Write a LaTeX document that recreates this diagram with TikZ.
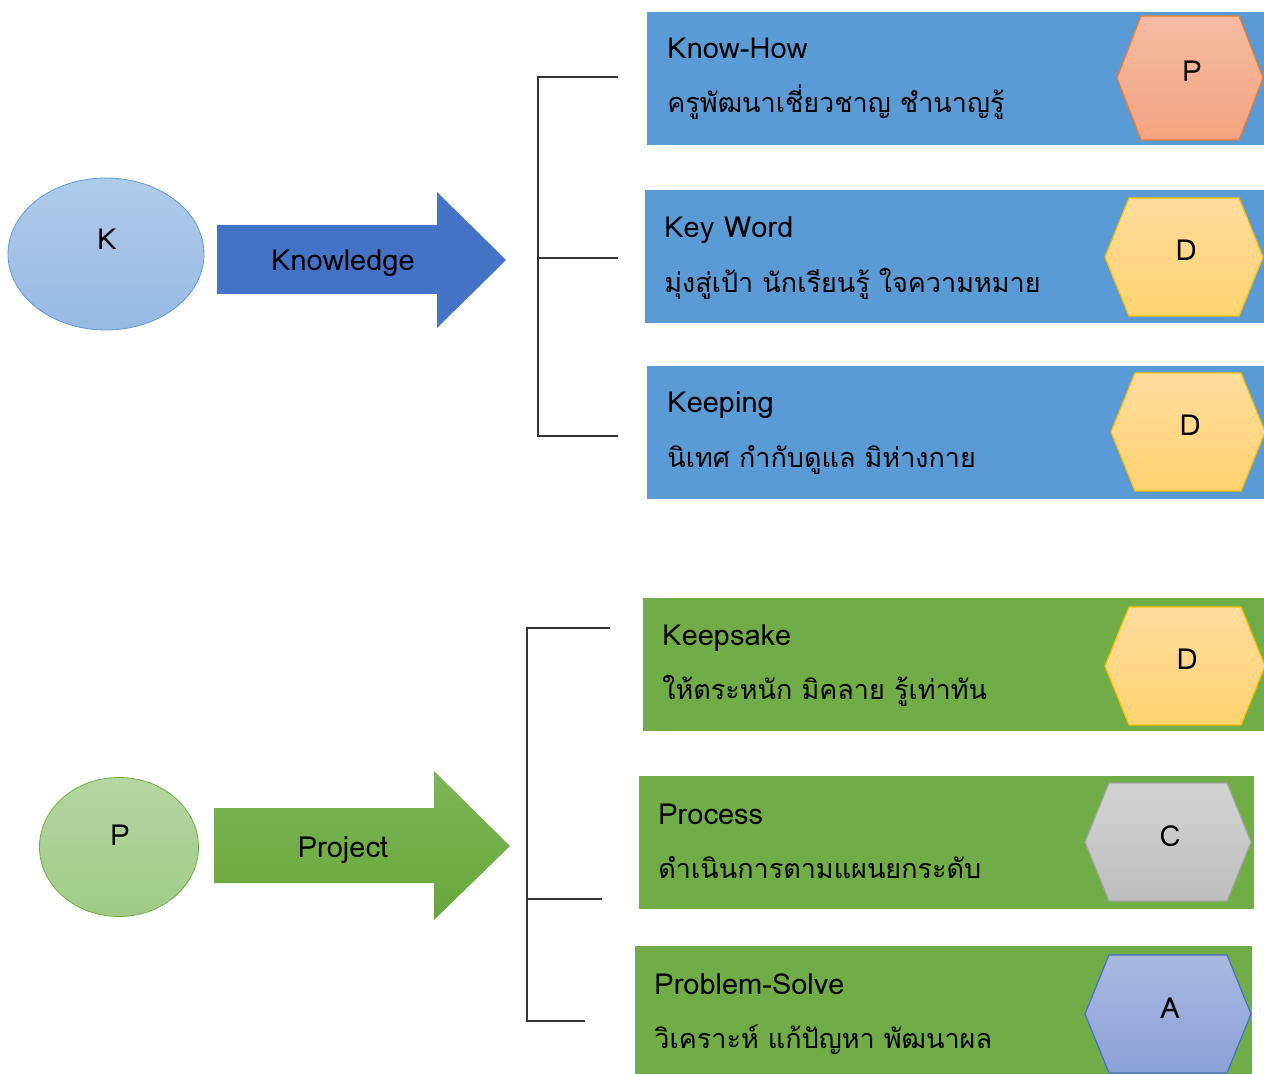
\documentclass[tikz,border=0pt]{standalone}
\usepackage{fontspec}
\setmainfont[Script=Thai]{Loma}
\usepackage{tikz}
\usetikzlibrary{shapes.geometric}
\definecolor{boxblue}{HTML}{5B9BD5}
\definecolor{boxgreen}{HTML}{70AD47}
\definecolor{arrowblue}{HTML}{4472C4}
\definecolor{kTop}{HTML}{AFCBEA}
\definecolor{kBot}{HTML}{97B9E2}
\definecolor{pTop}{HTML}{B5D6A3}
\definecolor{pBot}{HTML}{9FCB86}
\definecolor{projTop}{HTML}{7DB756}
\definecolor{projBot}{HTML}{68A63A}
\definecolor{salmTop}{HTML}{F5BCA3}
\definecolor{salmBot}{HTML}{F4A37F}
\definecolor{salmLine}{HTML}{ED7D31}
\definecolor{goldTop}{HTML}{FFDC9E}
\definecolor{goldBot}{HTML}{FFD371}
\definecolor{goldLine}{HTML}{FFC000}
\definecolor{grayTop}{HTML}{D2D2D2}
\definecolor{grayBot}{HTML}{BEBEBE}
\definecolor{grayLine}{HTML}{A5A5A5}
\definecolor{violTop}{HTML}{AAB8E0}
\definecolor{violBot}{HTML}{8BA2D8}
\definecolor{violLine}{HTML}{4472C4}

\begin{document}
\begin{tikzpicture}[x=0.5pt,y=-0.5pt,every node/.style={font=\fontsize{13.5}{16}\selectfont,text=black},
  bluebox/.style={fill=boxblue,anchor=north west,minimum height=66.5pt,inner sep=0pt},
  greenbox/.style={fill=boxgreen,anchor=north west,minimum height=66.5pt,inner sep=0pt},
  boxtext/.style={anchor=base west,inner sep=0pt},
  latin/.style={font=\fontsize{14.5}{17}\selectfont},
  midtext/.style={anchor=base,inner sep=0pt,latin},
  bracket/.style={draw=black!80,line width=0.6pt}]

\useasboundingbox (0,0) rectangle (1264,1074);

% K side
\node[ellipse,draw=boxblue,top color=kTop,bottom color=kBot,minimum width=98pt,minimum height=76pt,inner sep=0pt] (kell) at (106,254) {};
\node[midtext] (kletter) at (107,250) {K};
\fill[arrowblue] (217,225) -- (437,225) -- (437,192) -- (506,260) -- (437,328) -- (437,294) -- (217,294) -- cycle;
\node[midtext] (klabel) at (343,271) {Knowledge};

% P side
\node[ellipse,draw=boxgreen,top color=pTop,bottom color=pBot,minimum width=79.5pt,minimum height=69.5pt,inner sep=0pt] (pell) at (119,847) {};
\node[midtext] (pletter) at (120,845) {P};
\shade[top color=projTop,bottom color=projBot] (214,808) -- (434,808) -- (434,771) -- (510,846) -- (434,920) -- (434,883) -- (214,883) -- cycle;
\node[midtext] (plabel) at (343,857) {Project};

% brackets
\coordinate (ka) at (618,77);
\coordinate (kb) at (538,77);
\coordinate (kc) at (538,436);
\coordinate (kd) at (618,436);
\coordinate (km) at (538,258);
\coordinate (kn) at (618,258);
\draw[bracket] (ka) -- (kb) -- (kc) -- (kd);
\draw[bracket] (km) -- (kn);
\coordinate (pa) at (610,628);
\coordinate (pb) at (527,628);
\coordinate (pc) at (527,1021);
\coordinate (pd) at (585,1021);
\coordinate (pm) at (527,899);
\coordinate (pn) at (602,899);
\draw[bracket] (pa) -- (pb) -- (pc) -- (pd);
\draw[bracket] (pm) -- (pn);

% boxes
\node[bluebox,minimum width=308.5pt] (knowhowbox) at (647,12) {};
\node[bluebox,minimum width=309.5pt] (keywordbox) at (645,190) {};
\node[bluebox,minimum width=308.5pt] (keepingbox) at (647,366) {};
\node[greenbox,minimum width=310.5pt] (keepsakebox) at (643,598) {};
\node[greenbox,minimum width=307.5pt] (processbox) at (639,776) {};
\node[greenbox,minimum width=308.5pt,minimum height=64pt] (problembox) at (635,946) {};

% hexagons
\foreach \cx/\cy/\w/\h/\ct/\cb/\cl/\t [count=\i] in {1190/78/73/62/salmTop/salmBot/salmLine/P,
    1184/257/79/59/goldTop/goldBot/goldLine/D, 1188/432/77/59/goldTop/goldBot/goldLine/D,
    1185/666/80/59/goldTop/goldBot/goldLine/D, 1168/842/83/59/grayTop/grayBot/grayLine/C,
    1168/1014/83/59/violTop/violBot/violLine/A}
{
  \draw[draw=\cl,top color=\ct,bottom color=\cb,line width=0.6pt] (\cx-\w,\cy) -- (\cx-\w+24,\cy-\h) -- (\cx+\w-24,\cy-\h)
    -- (\cx+\w,\cy) -- (\cx+\w-24,\cy+\h) -- (\cx-\w+24,\cy+\h) -- cycle;
  \node[midtext] (hex\i) at (\cx+2,\cy+4) {\t};
}

% texts
\node[boxtext,latin] (knowhow) at (667,59) {Know-How};
\node[boxtext] (knowhowth) at (667,113) {ครูพัฒนาเชี่ยวชาญ ชำนาญรู้};
\node[boxtext,latin] (keyword) at (664,238) {Key Word};
\node[boxtext] (keywordth) at (664,293) {มุ่งสู่เป้า นักเรียนรู้ ใจความหมาย};
\node[boxtext,latin] (keeping) at (667,413) {Keeping};
\node[boxtext] (keepingth) at (667,468) {นิเทศ กำกับดูแล มิห่างกาย};
\node[boxtext,latin] (keepsake) at (662,646) {Keepsake};
\node[boxtext] (keepsaketh) at (662,700) {ให้ตระหนัก มิคลาย รู้เท่าทัน};
\node[boxtext,latin] (process) at (658,824) {Process};
\node[boxtext] (processth) at (658,878) {ดำเนินการตามแผนยกระดับ};
\node[boxtext,latin] (problem) at (654,994) {Problem-Solve};
\node[boxtext] (problemth) at (654,1048) {วิเคราะห์ แก้ปัญหา พัฒนาผล};
\end{tikzpicture}
\end{document}
